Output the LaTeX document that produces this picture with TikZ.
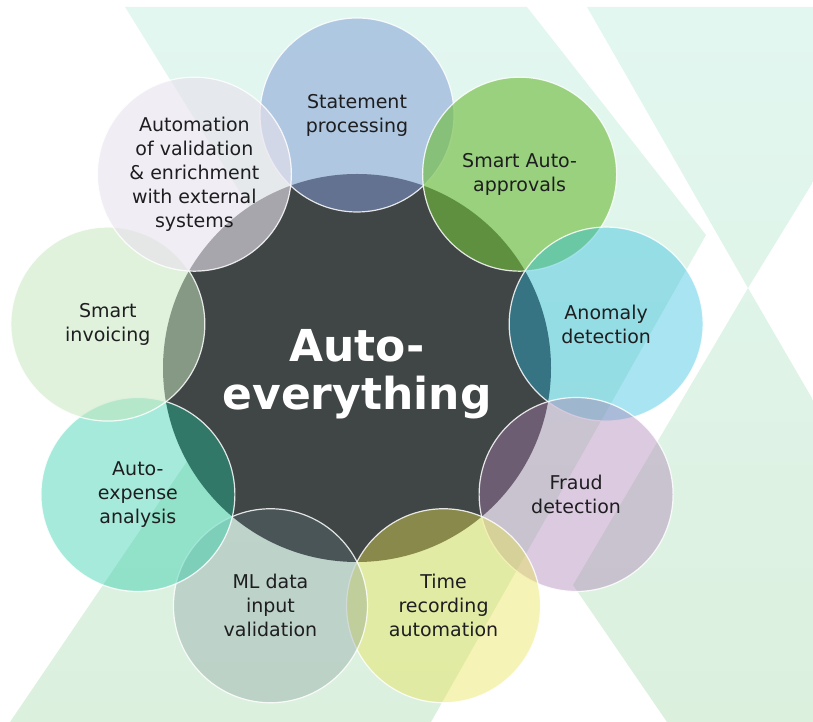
\documentclass[tikz,border=0pt]{standalone}
\usepackage{fontspec}
\setmainfont{DejaVu Sans}
\usetikzlibrary{calc}

\definecolor{hubgray}{RGB}{64,69,69}
\definecolor{bgmint}{RGB}{226,247,240}
\definecolor{bggreen}{RGB}{220,240,222}
\definecolor{stmtblue}{RGB}{130,157,213}
\definecolor{approvgreen}{RGB}{112,188,62}
\definecolor{anomalycyan}{RGB}{40,188,224}
\definecolor{fraudpurple}{RGB}{171,129,180}
\definecolor{timeyellow}{RGB}{232,228,83}
\definecolor{mlgray}{RGB}{104,130,137}
\definecolor{expenseteal}{RGB}{27,201,163}
\definecolor{invoicegreen}{RGB}{196,229,189}
\definecolor{enrichlavender}{RGB}{233,226,237}
\definecolor{labelblack}{RGB}{30,30,32}

\tikzset{
	petal/.style={circle, minimum size=194pt, inner sep=0pt, draw=white, line width=1.2pt, draw opacity=0.85},
	petaltext/.style={align=center, text=labelblack, font=\fontsize{19}{24}\selectfont},
	hubtext/.style={align=center, text=white, font=\bfseries\fontsize{44}{48}\selectfont}
}

\begin{document}
\begin{tikzpicture}[x=1pt,y=1pt]
	\useasboundingbox (0,0) rectangle (813,722);
	
	% Hintergrund
	\begin{scope}
		\clip (125,715) -- (527,715) -- (706,487) -- (431,0) -- (10,0) -- (302,430) -- cycle
		      (587,715) -- (813,715) -- (813,540) -- (748,434) -- cycle
		      (748,434) -- (573,137) -- (667,0) -- (813,0) -- (813,322) -- cycle;
		\shade[top color=bgmint, bottom color=bggreen] (0,0) rectangle (813,722);
	\end{scope}
	
	% Mitte
	\node[circle, minimum size=388pt, inner sep=0pt, fill=hubgray] (hub) at (357,354) {};
	
	% Kreise aussen
	\node[petal, fill=stmtblue, fill opacity=0.52] (stmt) at ($(hub)+(90:253)$) {};
	\node[petal, fill=approvgreen, fill opacity=0.63] (approv) at ($(hub)+(50:253)$) {};
	\node[petal, fill=anomalycyan, fill opacity=0.4] (anomaly) at ($(hub)+(10:253)$) {};
	\node[petal, fill=fraudpurple, fill opacity=0.41] (fraud) at ($(hub)+(-30:253)$) {};
	\node[petal, fill=timeyellow, fill opacity=0.43] (time) at ($(hub)+(-70:253)$) {};
	\node[petal, fill=mlgray, fill opacity=0.27] (mldata) at ($(hub)+(-110:253)$) {};
	\node[petal, fill=expenseteal, fill opacity=0.39] (expense) at ($(hub)+(-150:253)$) {};
	\node[petal, fill=invoicegreen, fill opacity=0.53] (invoice) at ($(hub)+(170:253)$) {};
	\node[petal, fill=enrichlavender, fill opacity=0.62] (enrich) at ($(hub)+(130:253)$) {};
	
	% Beschriftungen
	\node[petaltext] at (stmt) {Statement\\processing};
	\node[petaltext] at (approv) {Smart Auto-\\approvals};
	\node[petaltext] at (anomaly) {Anomaly\\detection};
	\node[petaltext] at (fraud) {Fraud\\detection};
	\node[petaltext] at (time) {Time\\recording\\automation};
	\node[petaltext] at (mldata) {ML data\\input\\validation};
	\node[petaltext] at (expense) {Auto-\\expense\\analysis};
	\node[petaltext] at (invoice) {Smart\\invoicing};
	\node[petaltext] at (enrich) {Automation\\of validation\\\& enrichment\\with external\\systems};
	\node[hubtext] at ($(hub)+(0,-6)$) {Auto-\\everything};
	
\end{tikzpicture}
\end{document}
